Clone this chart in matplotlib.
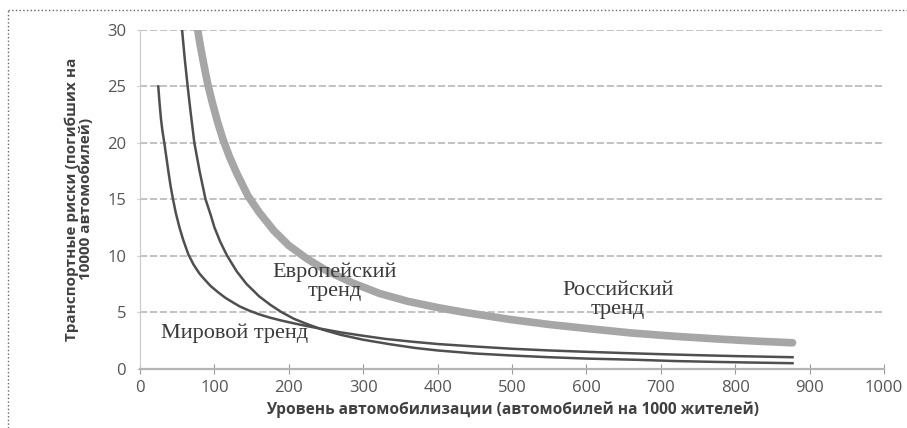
import matplotlib.pyplot as plt
from matplotlib.lines import Line2D

world_x = [24.5, 26, 28, 30, 32.6, 35, 38, 41, 44, 48, 53, 58, 65, 72, 80, 88, 95, 105, 115, 125,
           134, 146, 160, 175, 190, 207, 225, 245, 270, 300, 330, 365, 400, 450, 500, 550, 600,
           650, 700, 750, 800, 877]
world_y = [25, 23.7, 22.2, 21.1, 20, 18.9, 17.5, 16.2, 15.1, 13.8, 12.5, 11.4, 10.1, 9.2, 8.4, 7.8,
           7.3, 6.75, 6.25, 5.85, 5.5, 5.15, 4.8, 4.5, 4.25, 4.0, 3.75, 3.5, 3.2, 2.9, 2.62, 2.38,
           2.17, 1.95, 1.75, 1.6, 1.48, 1.37, 1.27, 1.18, 1.1, 1.0]

europe_x = [56.5, 60, 64, 68, 73, 80, 88, 95, 100, 108, 117, 130, 143, 160, 175, 190, 207, 224,
            245, 270, 300, 336, 370, 400, 450, 497, 550, 600, 663, 720, 770, 820, 877]
europe_y = [30, 27.5, 25, 22.7, 20, 17.5, 15, 13.6, 12.5, 11.2, 10, 8.6, 7.5, 6.4, 5.65, 5.0, 4.4,
            3.95, 3.45, 2.98, 2.55, 2.15, 1.82, 1.6, 1.33, 1.16, 1.0, 0.88, 0.78, 0.66, 0.59, 0.53,
            0.47]

russia_x = [77.5, 81, 85, 91, 97, 104, 111, 120, 130, 145, 160, 180, 200, 225, 250, 285, 322, 360,
            400, 434, 497, 550, 600, 660, 720, 780, 830, 877]
russia_y = [30, 28.6, 27.2, 25.2, 23.6, 21.9, 20.4, 18.8, 17.3, 15.3, 13.85, 12.2, 10.9, 9.7, 8.7,
            7.6, 6.65, 5.95, 5.4, 5.0, 4.35, 3.9, 3.55, 3.15, 2.85, 2.6, 2.42, 2.28]

x_ticks = [0, 100, 200, 300, 400, 500, 600, 700, 800, 900, 1000]
y_ticks = [0, 5, 10, 15, 20, 25, 30]

fig = plt.figure(figsize=(9.07, 4.28), dpi=100)
ax = fig.add_axes([0.1544, 0.139, 0.8203, 0.791])

ax.plot(russia_x, russia_y, color='#a6a6a6', lw=5.5, solid_capstyle='round',
        solid_joinstyle='round', zorder=3)
ax.plot(world_x, world_y, color='#4f4f4f', lw=1.8, solid_joinstyle='round', zorder=4)
ax.plot(europe_x, europe_y, color='#4f4f4f', lw=1.8, solid_joinstyle='round', zorder=4)

ax.set_xlim(0, 1000)
ax.set_ylim(0, 30)
ax.set_xticks(x_ticks)
ax.set_yticks(y_ticks)
ax.grid(axis='y', color='#bdbdbd', lw=1.3, linestyle=(0, (4, 1.5)), zorder=1)
for s in ['top', 'right']:
    ax.spines[s].set_visible(False)
ax.spines['left'].set_color('#c8c8c8')
ax.spines['bottom'].set_color('#b4b4b4')
ax.spines['bottom'].set_linewidth(1.6)
ax.tick_params(axis='x', direction='inout', length=7, color='#9a9a9a', labelsize=12,
               labelcolor='#555555', pad=5)
ax.tick_params(axis='y', direction='inout', length=4, color='#c8c8c8', labelsize=12,
               labelcolor='#555555', pad=8)
for lab in ax.get_xticklabels() + ax.get_yticklabels():
    lab.set_fontfamily('Open Sans')

ax.set_xlabel('Уровень автомобилизации (автомобилей на 1000 жителей)', fontsize=11.2,
              fontweight='bold', color='#404040', family='Open Sans', labelpad=4)
ax.set_ylabel('Транспортные риски (погибших на\n10000 автомобилей)', fontsize=11,
              fontweight='bold', color='#404040', family='Open Sans', labelpad=10,
              linespacing=1.0)

serif = dict(family='Liberation Serif', fontsize=16, color='#3a3a3a', ha='center',
             va='center', linespacing=1.0, zorder=5)
ax.text(262, 7.7, 'Европейский\nтренд', **serif)
ax.text(127, 3.1, 'Мировой тренд', **serif)
ax.text(642, 6.05, 'Российский\nтренд', **serif)

# пунктирная рамка
fig.add_artist(Line2D([8 / 907, 8 / 907], [0, 1 - 10 / 428], color='#666666', lw=1,
                      linestyle=':', transform=fig.transFigure))
fig.add_artist(Line2D([8 / 907, 1], [1 - 10 / 428, 1 - 10 / 428], color='#666666', lw=1,
                      linestyle=':', transform=fig.transFigure))

fig.savefig('out.png', dpi=100)
